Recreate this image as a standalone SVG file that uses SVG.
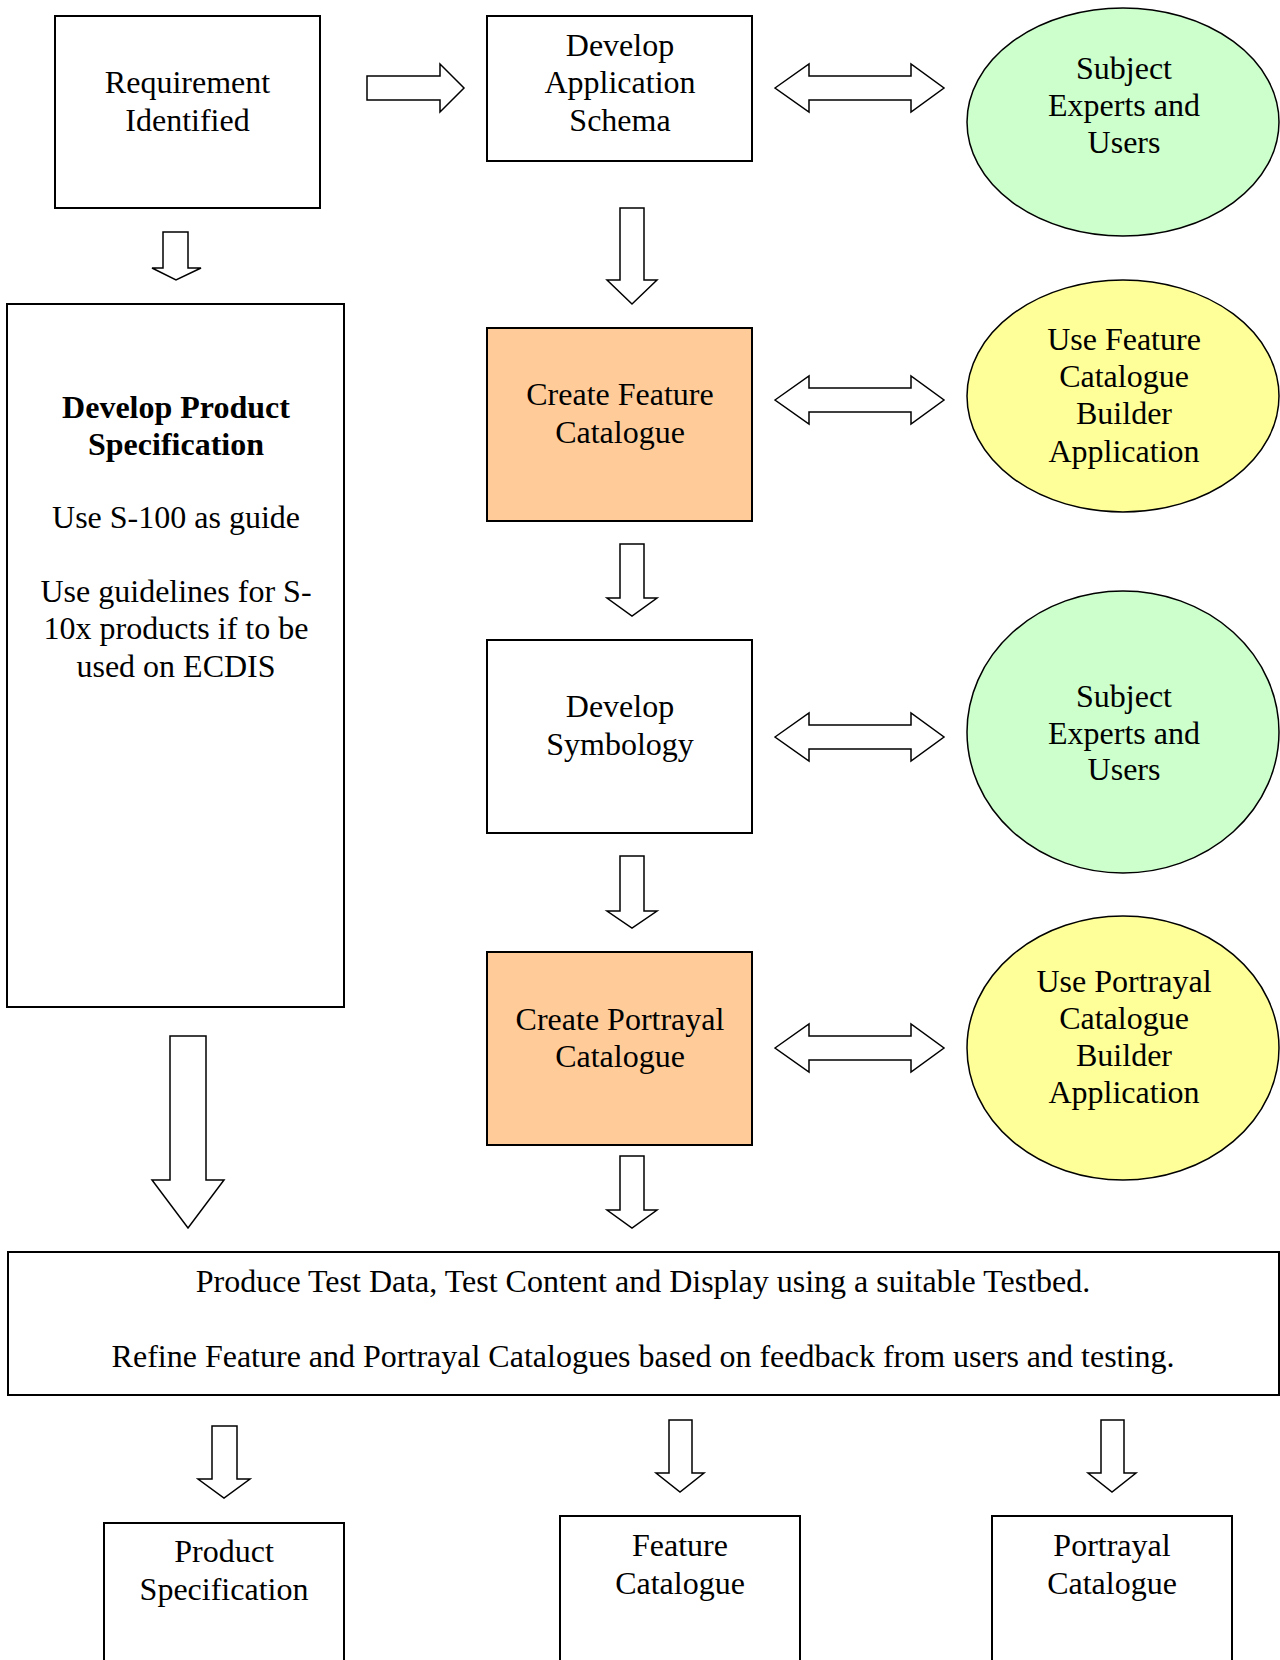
<svg xmlns="http://www.w3.org/2000/svg" width="1280" height="1660" viewBox="0 0 1280 1660">
<style>
text{font-family:"Liberation Serif","Times New Roman",serif;font-size:32px;fill:#000;text-anchor:middle}
.b{font-weight:bold}
.box{stroke:#000;stroke-width:2;fill:#fff}
.org{fill:#FFCC99}
.ell{stroke:#000;stroke-width:1.5}
.grn{fill:#CCFFCC}
.yel{fill:#FFFF99}
.arr{fill:#fff;stroke:#000;stroke-width:1.5;stroke-linejoin:miter}
</style>
<rect width="1280" height="1660" fill="#fff"/>
<g id="connectors">
<path class="arr" d="M367,76 H440 V64 L464,88 L440,112 V100 H367 Z"/>
<path class="arr" d="M163,232 H188 V268 H201 L176,280 L152,268 H163 Z"/>
<path class="arr" d="M170,1036 H206 V1180 H224 L188,1228 L152,1180 H170 Z"/>
<path class="arr" d="M620,208 H644 V280 H657 L632,304 L607,280 H620 Z"/>
<path class="arr" d="M620,544 H644 V598 H657 L632,616 L607,598 H620 Z"/>
<path class="arr" d="M620,856 H644 V911 H657 L632,928 L607,911 H620 Z"/>
<path class="arr" d="M620,1156 H644 V1210 H657 L632,1228 L607,1210 H620 Z"/>
<path class="arr" d="M775,88 L809,64 V76 H911 V64 L944,88 L911,112 V100 H809 V112 Z"/>
<path class="arr" d="M775,400 L809,376 V388 H911 V376 L944,400 L911,424 V412 H809 V424 Z"/>
<path class="arr" d="M775,737 L809,713 V725 H911 V713 L944,737 L911,761 V749 H809 V761 Z"/>
<path class="arr" d="M775,1048 L809,1024 V1036 H911 V1024 L944,1048 L911,1072 V1060 H809 V1072 Z"/>
<path class="arr" d="M212,1426 H237 V1479 H250 L224,1498 L198,1479 H212 Z"/>
<path class="arr" d="M669,1420 H692 V1473 H704 L680,1492 L656,1473 H669 Z"/>
<path class="arr" d="M1101,1420 H1124 V1473 H1136 L1112,1492 L1088,1473 H1101 Z"/>
</g>
<g id="req">
<rect class="box" x="55" y="16" width="265" height="192"/>
<text x="187.5" y="93">Requirement</text>
<text x="187.5" y="131">Identified</text>
</g>
<g id="schema">
<rect class="box" x="487" y="16" width="265" height="145"/>
<text x="620" y="56">Develop</text>
<text x="620" y="93">Application</text>
<text x="620" y="131">Schema</text>
</g>
<g id="experts1">
<ellipse class="ell grn" cx="1123" cy="122" rx="156" ry="114"/>
<text x="1124" y="79">Subject</text>
<text x="1124" y="116">Experts and</text>
<text x="1124" y="153">Users</text>
</g>
<g id="prodspec">
<rect class="box" x="7" y="304" width="337" height="703"/>
<text class="b" x="176" y="418">Develop Product</text>
<text class="b" x="176" y="455">Specification</text>
<text x="176" y="528">Use S-100 as guide</text>
<text x="176" y="602">Use guidelines for S-</text>
<text x="176" y="639">10x products if to be</text>
<text x="176" y="677">used on ECDIS</text>
</g>
<g id="featcat">
<rect class="box org" x="487" y="328" width="265" height="193"/>
<text x="620" y="405">Create Feature</text>
<text x="620" y="443">Catalogue</text>
</g>
<g id="fcbuilder">
<ellipse class="ell yel" cx="1123" cy="396" rx="156" ry="116"/>
<text x="1124" y="350">Use Feature</text>
<text x="1124" y="387">Catalogue</text>
<text x="1124" y="424">Builder</text>
<text x="1124" y="462">Application</text>
</g>
<g id="symbology">
<rect class="box" x="487" y="640" width="265" height="193"/>
<text x="620" y="717">Develop</text>
<text x="620" y="755">Symbology</text>
</g>
<g id="experts2">
<ellipse class="ell grn" cx="1123" cy="732" rx="156" ry="141"/>
<text x="1124" y="707">Subject</text>
<text x="1124" y="744">Experts and</text>
<text x="1124" y="780">Users</text>
</g>
<g id="portcat">
<rect class="box org" x="487" y="952" width="265" height="193"/>
<text x="620" y="1030">Create Portrayal</text>
<text x="620" y="1067">Catalogue</text>
</g>
<g id="pcbuilder">
<ellipse class="ell yel" cx="1123" cy="1048" rx="156" ry="132"/>
<text x="1124" y="992">Use Portrayal</text>
<text x="1124" y="1029">Catalogue</text>
<text x="1124" y="1066">Builder</text>
<text x="1124" y="1103">Application</text>
</g>
<g id="testing">
<rect class="box" x="8" y="1252" width="1271" height="143"/>
<text x="643" y="1292">Produce Test Data, Test Content and Display using a suitable Testbed.</text>
<text x="643" y="1367">Refine Feature and Portrayal Catalogues based on feedback from users and testing.</text>
</g>
<g id="out-spec">
<rect class="box" x="104" y="1523" width="240" height="145"/>
<text x="224" y="1562">Product</text>
<text x="224" y="1600">Specification</text>
</g>
<g id="out-feat">
<rect class="box" x="560" y="1516" width="240" height="152"/>
<text x="680" y="1556">Feature</text>
<text x="680" y="1594">Catalogue</text>
</g>
<g id="out-port">
<rect class="box" x="992" y="1516" width="240" height="152"/>
<text x="1112" y="1556">Portrayal</text>
<text x="1112" y="1594">Catalogue</text>
</g>
</svg>
